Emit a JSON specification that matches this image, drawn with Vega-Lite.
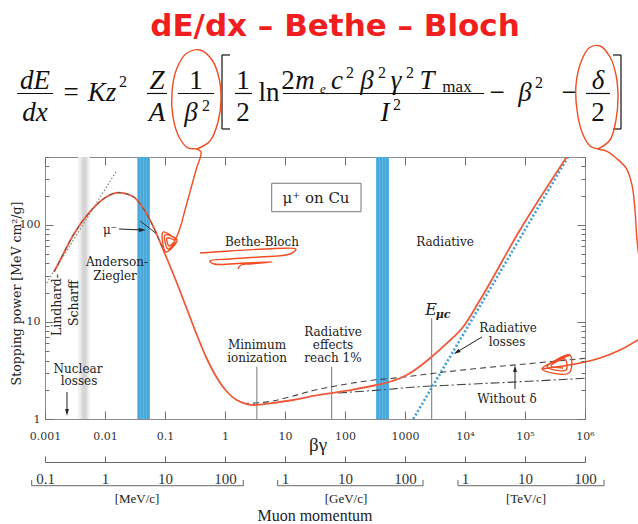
{
  "$schema": "https://vega.github.io/schema/vega-lite/v6.json",
  "width": 540,
  "height": 262,
  "autosize": "none",
  "padding": {"left": 45, "top": 157, "right": 53, "bottom": 105},
  "background": "white",
  "config": {
    "view": {"stroke": "#8a8a8a", "strokeWidth": 1},
    "text": {"font": "DejaVu Serif"}
  },
  "resolve": {"axis": {"x": "independent", "y": "independent"}},
  "datasets": {
    "bands": [
      {"kind": "haze", "lo": 0.00357, "hi": 0.00555, "vlo": 1, "vhi": 500},
      {"kind": "shade", "lo": 0.00393, "hi": 0.00514, "vlo": 1, "vhi": 500},
      {"kind": "core", "lo": 0.0042, "hi": 0.0049, "vlo": 1, "vhi": 500},
      {"kind": "beam", "lo": 0.03454, "hi": 0.05623, "vlo": 1, "vhi": 500},
      {"kind": "beam", "lo": 328.6, "hi": 541.2, "vlo": 1, "vhi": 500}
    ],
    "stripes": [
      {"bg": 0.03687, "vlo": 1, "vhi": 500},
      {"bg": 0.04137, "vlo": 1, "vhi": 500},
      {"bg": 0.04642, "vlo": 1, "vhi": 500},
      {"bg": 0.05208, "vlo": 1, "vhi": 500},
      {"bg": 354.8, "vlo": 1, "vhi": 500},
      {"bg": 398.1, "vlo": 1, "vhi": 500},
      {"bg": 446.7, "vlo": 1, "vhi": 500},
      {"bg": 501.2, "vlo": 1, "vhi": 500}
    ],
    "momentumBrackets": [
      {"bg": 0.0006003, "bg2": 2.018, "sp": 0.2055, "sp2": 0.2055},
      {"bg": 0.0006003, "bg2": 0.0006003, "sp": 0.2055, "sp2": 0.2353},
      {"bg": 2.018, "bg2": 2.018, "sp": 0.2055, "sp2": 0.2353},
      {"bg": 7.555, "bg2": 1995, "sp": 0.2055, "sp2": 0.2055},
      {"bg": 7.555, "bg2": 7.555, "sp": 0.2055, "sp2": 0.2353},
      {"bg": 1995, "bg2": 1995, "sp": 0.2055, "sp2": 0.2353},
      {"bg": 7643, "bg2": 2073000, "sp": 0.2055, "sp2": 0.2055},
      {"bg": 7643, "bg2": 7643, "sp": 0.2055, "sp2": 0.2353},
      {"bg": 2073000, "bg2": 2073000, "sp": 0.2055, "sp2": 0.2353}
    ],
    "markers": [
      {"name": "minimum ionization", "bg": 3.4, "base": 1, "top": 3.458},
      {"name": "radiative 1%", "bg": 60, "base": 1, "top": 3.458},
      {"name": "critical energy", "bg": 2786, "base": 1, "top": 10.9}
    ],
    "curves": [
      {"series": "total", "bg": 0.001413, "sp": 32.7},
      {"series": "total", "bg": 0.001995, "sp": 49.5},
      {"series": "total", "bg": 0.002963, "sp": 78.6},
      {"series": "total", "bg": 0.005623, "sp": 136.6},
      {"series": "total", "bg": 0.01067, "sp": 195},
      {"series": "total", "bg": 0.01666, "sp": 214.5},
      {"series": "total", "bg": 0.02963, "sp": 195},
      {"series": "total", "bg": 0.04348, "sp": 148.1},
      {"series": "total", "bg": 0.06383, "sp": 95.7},
      {"series": "total", "bg": 0.09369, "sp": 55.1},
      {"series": "total", "bg": 0.1067, "sp": 45.57},
      {"series": "total", "bg": 0.1567, "sp": 25.48},
      {"series": "total", "bg": 0.23, "sp": 13.75},
      {"series": "total", "bg": 0.3376, "sp": 7.42},
      {"series": "total", "bg": 0.4955, "sp": 4.2},
      {"series": "total", "bg": 0.7272, "sp": 2.677},
      {"series": "total", "bg": 1.067, "sp": 1.92},
      {"series": "total", "bg": 1.567, "sp": 1.569},
      {"series": "total", "bg": 2.3, "sp": 1.427},
      {"series": "total", "bg": 3.16, "sp": 1.394},
      {"series": "total", "bg": 5.62, "sp": 1.45},
      {"series": "total", "bg": 13.75, "sp": 1.569},
      {"series": "total", "bg": 29.6, "sp": 1.726},
      {"series": "total", "bg": 106.7, "sp": 1.957},
      {"series": "total", "bg": 337.6, "sp": 2.24},
      {"series": "total", "bg": 562, "sp": 2.42},
      {"series": "total", "bg": 1067, "sp": 2.84},
      {"series": "total", "bg": 1778, "sp": 3.5},
      {"series": "total", "bg": 2786, "sp": 4.38},
      {"series": "total", "bg": 4955, "sp": 6.02},
      {"series": "total", "bg": 9369, "sp": 8.93},
      {"series": "total", "bg": 17780, "sp": 16.8},
      {"series": "total", "bg": 82540, "sp": 88.5},
      {"series": "total", "bg": 495500, "sp": 500},
      {"series": "fit", "bg": 0.001413, "sp": 32.7},
      {"series": "fit", "bg": 0.001995, "sp": 49.5},
      {"series": "fit", "bg": 0.002963, "sp": 78.6},
      {"series": "fit", "bg": 0.005623, "sp": 136.6},
      {"series": "fit", "bg": 0.01067, "sp": 195},
      {"series": "fit", "bg": 0.01666, "sp": 214.5},
      {"series": "fit", "bg": 0.02963, "sp": 195},
      {"series": "fit", "bg": 0.04348, "sp": 148.1},
      {"series": "fit", "bg": 0.06383, "sp": 95.7},
      {"series": "fit", "bg": 0.09369, "sp": 55.1},
      {"series": "radiative", "bg": 1374, "sp": 1},
      {"series": "radiative", "bg": 520000, "sp": 500},
      {"series": "lindhard", "bg": 0.001067, "sp": 25.2},
      {"series": "lindhard", "bg": 0.01526, "sp": 353},
      {"series": "nodelta", "bg": 1.995, "sp": 1.444},
      {"series": "nodelta", "bg": 5.623, "sp": 1.515},
      {"series": "nodelta", "bg": 13.59, "sp": 1.726},
      {"series": "nodelta", "bg": 29.29, "sp": 1.966},
      {"series": "nodelta", "bg": 63.1, "sp": 2.162},
      {"series": "nodelta", "bg": 261, "sp": 2.492},
      {"series": "nodelta", "bg": 825.4, "sp": 2.677},
      {"series": "nodelta", "bg": 3831, "sp": 3.013},
      {"series": "nodelta", "bg": 10800, "sp": 3.236},
      {"series": "nodelta", "bg": 135900, "sp": 3.749},
      {"series": "nodelta", "bg": 1000000, "sp": 4.22},
      {"series": "ionization", "bg": 76.4, "sp": 1.853},
      {"series": "ionization", "bg": 383, "sp": 1.99},
      {"series": "ionization", "bg": 1778, "sp": 2.151},
      {"series": "ionization", "bg": 6310, "sp": 2.24},
      {"series": "ionization", "bg": 82540, "sp": 2.42},
      {"series": "ionization", "bg": 1000000, "sp": 2.626},
      {"series": "mu_minus", "bg": 0.03831, "sp": 109.6},
      {"series": "mu_minus", "bg": 0.05208, "sp": 95.06},
      {"series": "mu_minus", "bg": 0.07079, "sp": 81.47}
    ],
    "box": [{"lo": 6.0, "hi": 184.8, "vlo": 136.6, "vhi": 268.1}],
    "notes": [
      {"t": "Bethe-Bloch", "bg": 4.138, "sp": 66.6},
      {"t": "Radiative", "bg": 4642, "sp": 66.6},
      {"t": "Anderson-", "bg": 0.01585, "sp": 41.44},
      {"t": "Ziegler", "bg": 0.01468, "sp": 29.73},
      {"t": "Nuclear", "bg": 0.003548, "sp": 3.313},
      {"t": "losses", "bg": 0.003687, "sp": 2.434},
      {"t": "Minimum", "bg": 3.415, "sp": 5.717},
      {"t": "ionization", "bg": 3.415, "sp": 4.2},
      {"t": "Radiative", "bg": 63.1, "sp": 7.967},
      {"t": "effects", "bg": 63.1, "sp": 5.786},
      {"t": "reach 1%", "bg": 63.1, "sp": 4.2},
      {"t": "Radiative", "bg": 52100, "sp": 8.66},
      {"t": "losses", "bg": 50120, "sp": 6.213},
      {"t": "Without δ", "bg": 50120, "sp": 1.607},
      {"t": "μ⁻", "bg": 0.01212, "sp": 88.51}
    ],
    "sideNotes": [
      {"t": "Lindhard-", "bg": 0.001585, "sp": 14.94},
      {"t": "Scharff", "bg": 0.003044, "sp": 15.67}
    ],
    "boxLabel": [{"t": "μ⁺ on Cu", "bg": 32.86, "sp": 189.1}],
    "criticalLabel": [
      {"part": "symbol", "t": "E", "bg": 2712, "sp": 11.79},
      {"part": "index", "t": "μc", "bg": 4300, "sp": 10.98}
    ],
    "arrows": [
      {"id": "mu", "bg": 0.01711, "sp": 90.64, "bg2": 0.04137, "sp2": 88.51, "heading": 90},
      {"id": "nuclear", "bg": 0.002326, "sp": 1.897, "bg2": 0.002326, "sp2": 1.181, "heading": 180},
      {"id": "radiative", "bg": 19200, "sp": 6.995, "bg2": 7356, "sp2": 4.9, "heading": 239},
      {"id": "nodelta", "bg": 68130, "sp": 2.038, "bg2": 68130, "sp2": 3.274, "heading": 0}
    ],
    "axisTexts": [
      {"kind": "betagamma", "t": "βγ", "bg": 35.48, "sp": 0.5397},
      {"kind": "unit", "t": "[MeV/c]", "bg": 0.03415, "sp": 0.1499},
      {"kind": "unit", "t": "[GeV/c]", "bg": 103.9, "sp": 0.1499},
      {"kind": "unit", "t": "[TeV/c]", "bg": 103900, "sp": 0.1499},
      {"kind": "momentum", "t": "Muon momentum", "bg": 31.62, "sp": 0.1002}
    ],
    "heading": [{"t": "dE/dx – Bethe – Bloch", "bg": 68.13, "sp": 10925}],
    "formula": [
      {"kind": "var", "t": "dE", "bg": 0.000681, "sp": 2510},
      {"kind": "var", "t": "dx", "bg": 0.000681, "sp": 1175},
      {"kind": "var", "t": "Kz", "bg": 0.008913, "sp": 1888},
      {"kind": "var", "t": "Z", "bg": 0.07356, "sp": 2510},
      {"kind": "var", "t": "A", "bg": 0.07356, "sp": 1175},
      {"kind": "var", "t": "β", "bg": 0.2712, "sp": 1175},
      {"kind": "var", "t": "m", "bg": 21.54, "sp": 2510},
      {"kind": "var", "t": "c", "bg": 73.56, "sp": 2510},
      {"kind": "var", "t": "β", "bg": 232.6, "sp": 2510},
      {"kind": "var", "t": "γ", "bg": 707.9, "sp": 2510},
      {"kind": "var", "t": "T", "bg": 2326, "sp": 2510},
      {"kind": "var", "t": "I", "bg": 464.2, "sp": 1175},
      {"kind": "var", "t": "β", "bg": 100000, "sp": 1888},
      {"kind": "var", "t": "δ", "bg": 1647000, "sp": 2510},
      {"kind": "num", "t": "=", "bg": 0.002712, "sp": 1888},
      {"kind": "num", "t": "1", "bg": 0.3286, "sp": 2510},
      {"kind": "num", "t": "1", "bg": 1.995, "sp": 2510},
      {"kind": "num", "t": "2", "bg": 1.995, "sp": 1175},
      {"kind": "num", "t": "ln", "bg": 5.412, "sp": 1888},
      {"kind": "num", "t": "2", "bg": 11.22, "sp": 2510},
      {"kind": "num", "t": "−", "bg": 34150, "sp": 1888},
      {"kind": "num", "t": "−", "bg": 541200, "sp": 1888},
      {"kind": "num", "t": "2", "bg": 1647000, "sp": 1175},
      {"kind": "sup", "t": "2", "bg": 0.01995, "sp": 2632},
      {"kind": "sup", "t": "2", "bg": 0.4825, "sp": 1489},
      {"kind": "sup", "t": "2", "bg": 121.2, "sp": 3257},
      {"kind": "sup", "t": "2", "bg": 413.6, "sp": 3257},
      {"kind": "sup", "t": "2", "bg": 1212, "sp": 3257},
      {"kind": "sup", "t": "2", "bg": 735.6, "sp": 1525},
      {"kind": "sup", "t": "2", "bg": 171100, "sp": 2570},
      {"kind": "sub", "t": "e", "bg": 42.99, "sp": 2283},
      {"kind": "index", "t": "max", "bg": 7356, "sp": 2337}
    ],
    "formulaRules": [
      {"bg": 0.0003415, "bg2": 0.001359, "sp": 2256, "sp2": 2256},
      {"bg": 0.05012, "bg2": 0.108, "sp": 2256, "sp2": 2256},
      {"bg": 0.1647, "bg2": 0.6557, "sp": 2256, "sp2": 2256},
      {"bg": 1.468, "bg2": 2.818, "sp": 2256, "sp2": 2256},
      {"bg": 9.261, "bg2": 20730, "sp": 2256, "sp2": 2256},
      {"bg": 1039000, "bg2": 2610000, "sp": 2256, "sp2": 2256},
      {"bg": 0.8913, "bg2": 0.8913, "sp": 5622, "sp2": 971.6},
      {"bg": 0.8913, "bg2": 1.212, "sp": 5622, "sp2": 5622},
      {"bg": 0.8913, "bg2": 1.212, "sp": 971.6, "sp2": 971.6},
      {"bg": 3981000, "bg2": 3981000, "sp": 5622, "sp2": 971.6},
      {"bg": 2929000, "bg2": 3981000, "sp": 5622, "sp2": 5622},
      {"bg": 2929000, "bg2": 3981000, "sp": 971.6, "sp2": 971.6}
    ],
    "ink": [
      {"s": "a", "i": 1, "bg": 0.3415, "sp": 604.7},
      {"s": "a", "i": 2, "bg": 0.5623, "sp": 730.9},
      {"s": "a", "i": 3, "bg": 0.7647, "sp": 1147},
      {"s": "a", "i": 4, "bg": 0.8577, "sp": 1933},
      {"s": "a", "i": 5, "bg": 0.7943, "sp": 3257},
      {"s": "a", "i": 6, "bg": 0.6072, "sp": 4994},
      {"s": "a", "i": 7, "bg": 0.3831, "sp": 6330},
      {"s": "a", "i": 8, "bg": 0.2326, "sp": 5895},
      {"s": "a", "i": 9, "bg": 0.1585, "sp": 4129},
      {"s": "a", "i": 10, "bg": 0.1308, "sp": 2337},
      {"s": "a", "i": 11, "bg": 0.1359, "sp": 1292},
      {"s": "a", "i": 12, "bg": 0.1711, "sp": 803.9},
      {"s": "a", "i": 13, "bg": 0.2416, "sp": 619.2},
      {"s": "a", "i": 14, "bg": 0.3415, "sp": 604.7},
      {"s": "a", "i": 15, "bg": 0.3981, "sp": 563.1},
      {"s": "a", "i": 16, "bg": 0.3286, "sp": 367.5},
      {"s": "a", "i": 17, "bg": 0.261, "sp": 218.1},
      {"s": "a", "i": 18, "bg": 0.2154, "sp": 142.2},
      {"s": "a", "i": 19, "bg": 0.1848, "sp": 99.7},
      {"s": "a", "i": 20, "bg": 0.1585, "sp": 76.8},
      {"s": "a", "i": 21, "bg": 0.1413, "sp": 68.19},
      {"s": "a2", "i": 1, "bg": 0.1585, "sp": 69.83},
      {"s": "a2", "i": 2, "bg": 0.0926, "sp": 84.42},
      {"s": "a2", "i": 3, "bg": 0.1039, "sp": 52.53},
      {"s": "a2", "i": 4, "bg": 0.1585, "sp": 69.83},
      {"s": "a2", "i": 5, "bg": 0.1, "sp": 78.63},
      {"s": "a2", "i": 6, "bg": 0.1122, "sp": 56.41},
      {"s": "a2", "i": 7, "bg": 0.1468, "sp": 68.19},
      {"s": "a2", "i": 8, "bg": 0.108, "sp": 73.21},
      {"s": "a2", "i": 9, "bg": 0.1166, "sp": 60.57},
      {"s": "a2", "i": 10, "bg": 0.1413, "sp": 66.6},
      {"s": "b", "i": 1, "bg": 1647000, "sp": 604.7},
      {"s": "b", "i": 2, "bg": 2610000, "sp": 748.5},
      {"s": "b", "i": 3, "bg": 3286000, "sp": 1203},
      {"s": "b", "i": 4, "bg": 3548000, "sp": 2076},
      {"s": "b", "i": 5, "bg": 3286000, "sp": 3498},
      {"s": "b", "i": 6, "bg": 2610000, "sp": 5362},
      {"s": "b", "i": 7, "bg": 1778000, "sp": 6961},
      {"s": "b", "i": 8, "bg": 1166000, "sp": 6637},
      {"s": "b", "i": 9, "bg": 857700, "sp": 4763},
      {"s": "b", "i": 10, "bg": 707900, "sp": 2760},
      {"s": "b", "i": 11, "bg": 735600, "sp": 1525},
      {"s": "b", "i": 12, "bg": 891300, "sp": 904.8},
      {"s": "b", "i": 13, "bg": 1212000, "sp": 649.3},
      {"s": "b", "i": 14, "bg": 1647000, "sp": 604.7},
      {"s": "b", "i": 15, "bg": 2239000, "sp": 576.8},
      {"s": "b", "i": 16, "bg": 3286000, "sp": 488.5},
      {"s": "b", "i": 17, "bg": 4825000, "sp": 385.3},
      {"s": "b", "i": 18, "bg": 6072000, "sp": 257.5},
      {"s": "b", "i": 19, "bg": 6810000, "sp": 142.2},
      {"s": "b", "i": 20, "bg": 7356000, "sp": 69.83},
      {"s": "b", "i": 21, "bg": 8254000, "sp": 38.6},
      {"s": "c", "i": 1, "bg": 8577000, "sp": 6.831},
      {"s": "c", "i": 2, "bg": 3831000, "sp": 5.138},
      {"s": "c", "i": 3, "bg": 1778000, "sp": 4.25},
      {"s": "c", "i": 4, "bg": 681000, "sp": 3.687},
      {"s": "c", "i": 5, "bg": 192000, "sp": 3.274},
      {"s": "c2", "i": 1, "bg": 562300, "sp": 4.563},
      {"s": "c2", "i": 2, "bg": 192000, "sp": 3.274},
      {"s": "c2", "i": 3, "bg": 541200, "sp": 2.977},
      {"s": "c2", "i": 4, "bg": 562300, "sp": 4.563},
      {"s": "c2", "i": 5, "bg": 232600, "sp": 3.434},
      {"s": "c2", "i": 6, "bg": 482500, "sp": 3.197},
      {"s": "c2", "i": 7, "bg": 464200, "sp": 4.151},
      {"s": "c2", "i": 8, "bg": 271400, "sp": 3.516},
      {"s": "c2", "i": 9, "bg": 430000, "sp": 3.353},
      {"s": "d", "i": 1, "bg": 0.3831, "sp": 51.3},
      {"s": "d", "i": 2, "bg": 1.212, "sp": 53.79},
      {"s": "d", "i": 3, "bg": 4.642, "sp": 56.41},
      {"s": "d", "i": 4, "bg": 15.26, "sp": 56.41},
      {"s": "d", "i": 5, "bg": 12.12, "sp": 50.11},
      {"s": "d", "i": 6, "bg": 3.831, "sp": 46.66},
      {"s": "d", "i": 7, "bg": 1.212, "sp": 44.5},
      {"s": "d", "i": 8, "bg": 0.5623, "sp": 42.44},
      {"s": "d", "i": 9, "bg": 0.6557, "sp": 39.53},
      {"s": "d", "i": 10, "bg": 2.154, "sp": 40.47},
      {"s": "d", "i": 11, "bg": 6.072, "sp": 41.44},
      {"s": "d", "i": 12, "bg": 2.61, "sp": 39.53},
      {"s": "d", "i": 13, "bg": 1.848, "sp": 38.6},
      {"s": "d", "i": 14, "bg": 1.647, "sp": 35.1}
    ]
  },
  "layer": [
    {
      "data": {"name": "bands"},
      "mark": {"type": "rect"},
      "encoding": {
        "x": {"field": "lo", "type": "quantitative",
          "scale": {"type": "log", "domain": [0.001, 1000000], "nice": false},
          "axis": {"orient": "bottom", "values": [0.001, 0.01, 0.1, 1, 10, 100, 1000, 10000, 100000, 1000000],
            "labelExpr": "datum.value < 0.005 ? '0.001' : datum.value < 0.05 ? '0.01' : datum.value < 0.5 ? '0.1' : datum.value < 5 ? '1' : datum.value < 50 ? '10' : datum.value < 500 ? '100' : datum.value < 5000 ? '1000' : datum.value < 50000 ? '10⁴' : datum.value < 500000 ? '10⁵' : '10⁶'",
            "tickSize": -8, "tickColor": "#6f6f6f", "domain": false, "grid": false, "labelPadding": 19,
            "labelFont": "DejaVu Serif", "labelFontSize": 11, "labelColor": "#333", "labelFlush": false, "labelOverlap": false,
            "title": null, "zindex": 1}},
        "x2": {"field": "hi"},
        "y": {"field": "vlo", "type": "quantitative",
          "scale": {"type": "log", "domain": [1, 500], "nice": false},
          "axis": {"orient": "left", "values": [1, 10, 100],
            "labelExpr": "datum.value < 5 ? '1' : datum.value < 50 ? '10' : '100'",
            "tickSize": -8, "tickColor": "#6f6f6f", "domain": false, "grid": false, "labelPadding": 13,
            "labelFont": "DejaVu Serif", "labelFontSize": 11, "labelColor": "#333",
            "title": "Stopping power [MeV cm²/g]", "titleFont": "DejaVu Serif", "titleFontSize": 12.5,
            "titleFontWeight": "normal", "titleColor": "#222", "titleX": -22, "titleY": 136, "zindex": 1}},
        "y2": {"field": "vhi"},
        "fill": {"field": "kind", "type": "nominal",
          "scale": {"domain": ["haze", "shade", "core", "beam"], "range": ["#f0f0f0", "#e2e2e2", "#d4d4d4", "#5cb7e4"]},
          "legend": null}
      }
    },
    {
      "data": {"name": "stripes"},
      "mark": {"type": "rule", "color": "#2f8fcb", "strokeWidth": 0.8},
      "encoding": {
        "x": {"field": "bg", "type": "quantitative",
          "scale": {"type": "log", "domain": [0.001, 1000000], "nice": false},
          "axis": {"orient": "top", "values": [0.001, 0.01, 0.1, 1, 10, 100, 1000, 10000, 100000, 1000000],
            "labels": false, "tickSize": -8, "tickColor": "#6f6f6f", "domain": false, "grid": false, "title": null, "zindex": 1}},
        "y": {"field": "vlo", "type": "quantitative",
          "scale": {"type": "log", "domain": [1, 500], "nice": false},
          "axis": {"orient": "right", "values": [1, 10, 100], "labels": false, "tickSize": -8,
            "tickColor": "#6f6f6f", "domain": false, "grid": false, "title": null, "zindex": 1}},
        "y2": {"field": "vhi"}
      }
    },
    {
      "data": {"name": "momentumBrackets"},
      "mark": {"type": "rule", "color": "#666", "strokeWidth": 1},
      "encoding": {
        "x": {"field": "bg", "type": "quantitative",
          "scale": {"type": "log", "domain": [0.001, 1000000], "nice": false},
          "axis": {"orient": "bottom", "offset": 43, "values": [0.001, 0.01, 0.1, 1, 10, 100, 1000, 10000, 100000, 1000000],
            "labelExpr": "datum.value < 0.005 ? '0.1' : datum.value < 0.05 ? '1' : datum.value < 0.5 ? '10' : datum.value < 5 ? '100' : datum.value < 50 ? '1' : datum.value < 500 ? '10' : datum.value < 5000 ? '100' : datum.value < 50000 ? '1' : datum.value < 500000 ? '10' : '100'",
            "tickSize": -6, "tickColor": "#666", "domain": true, "domainColor": "#666", "grid": false,
            "labelPadding": 15, "labelFont": "Liberation Serif", "labelFontSize": 15, "labelColor": "#333",
            "labelFlush": false, "labelOverlap": false, "title": null}},
        "x2": {"field": "bg2"},
        "y": {"field": "sp", "type": "quantitative",
          "scale": {"type": "log", "domain": [1, 500], "nice": false},
          "axis": {"orient": "left", "values": [2, 3, 4, 5, 6, 7, 8, 9, 20, 30, 40, 50, 60, 70, 80, 90, 200, 300, 400, 500],
            "labels": false, "tickSize": -4, "tickColor": "#6f6f6f", "domain": false, "grid": false, "title": null, "zindex": 1}},
        "y2": {"field": "sp2"}
      }
    },
    {
      "data": {"name": "markers"},
      "mark": {"type": "rule", "color": "#777", "strokeWidth": 1},
      "encoding": {
        "x": {"field": "bg", "type": "quantitative",
          "scale": {"type": "log", "domain": [0.001, 1000000], "nice": false}, "axis": null},
        "y": {"field": "base", "type": "quantitative",
          "scale": {"type": "log", "domain": [1, 500], "nice": false},
          "axis": {"orient": "right", "values": [2, 3, 4, 5, 6, 7, 8, 9, 20, 30, 40, 50, 60, 70, 80, 90, 200, 300, 400, 500],
            "labels": false, "tickSize": -4, "tickColor": "#6f6f6f", "domain": false, "grid": false, "title": null, "zindex": 1}},
        "y2": {"field": "top"}
      }
    },
    {
      "data": {"name": "curves"},
      "transform": [{"filter": "datum.series == 'lindhard'"}],
      "mark": {"type": "line", "color": "#777", "strokeWidth": 1.1, "strokeDash": [1.5, 2]},
      "encoding": {
        "x": {"field": "bg", "type": "quantitative", "scale": {"type": "log", "domain": [0.001, 1000000], "nice": false}, "axis": null},
        "y": {"field": "sp", "type": "quantitative", "scale": {"type": "log", "domain": [1, 500], "nice": false}, "axis": null}
      }
    },
    {
      "data": {"name": "curves"},
      "transform": [{"filter": "datum.series == 'radiative'"}],
      "mark": {"type": "line", "color": "#3a9ee0", "strokeWidth": 2.6, "strokeDash": [2, 2.2], "clip": true},
      "encoding": {
        "x": {"field": "bg", "type": "quantitative", "scale": {"type": "log", "domain": [0.001, 1000000], "nice": false}, "axis": null},
        "y": {"field": "sp", "type": "quantitative", "scale": {"type": "log", "domain": [1, 500], "nice": false}, "axis": null}
      }
    },
    {
      "data": {"name": "curves"},
      "transform": [{"filter": "datum.series == 'nodelta'"}],
      "mark": {"type": "line", "color": "#444", "strokeWidth": 1.1, "strokeDash": [6, 4], "interpolate": "monotone"},
      "encoding": {
        "x": {"field": "bg", "type": "quantitative", "scale": {"type": "log", "domain": [0.001, 1000000], "nice": false}, "axis": null},
        "y": {"field": "sp", "type": "quantitative", "scale": {"type": "log", "domain": [1, 500], "nice": false}, "axis": null}
      }
    },
    {
      "data": {"name": "curves"},
      "transform": [{"filter": "datum.series == 'ionization'"}],
      "mark": {"type": "line", "color": "#444", "strokeWidth": 1.1, "strokeDash": [9, 3, 2, 3], "interpolate": "monotone"},
      "encoding": {
        "x": {"field": "bg", "type": "quantitative", "scale": {"type": "log", "domain": [0.001, 1000000], "nice": false}, "axis": null},
        "y": {"field": "sp", "type": "quantitative", "scale": {"type": "log", "domain": [1, 500], "nice": false}, "axis": null}
      }
    },
    {
      "data": {"name": "curves"},
      "transform": [{"filter": "datum.series == 'total'"}],
      "mark": {"type": "line", "color": "#ee5a3a", "strokeWidth": 1.8, "interpolate": "monotone", "clip": true},
      "encoding": {
        "x": {"field": "bg", "type": "quantitative", "scale": {"type": "log", "domain": [0.001, 1000000], "nice": false}, "axis": null},
        "y": {"field": "sp", "type": "quantitative", "scale": {"type": "log", "domain": [1, 500], "nice": false}, "axis": null}
      }
    },
    {
      "data": {"name": "curves"},
      "transform": [{"filter": "datum.series == 'fit'"}],
      "mark": {"type": "line", "color": "#555", "strokeWidth": 1, "strokeDash": [4, 4], "interpolate": "monotone"},
      "encoding": {
        "x": {"field": "bg", "type": "quantitative", "scale": {"type": "log", "domain": [0.001, 1000000], "nice": false}, "axis": null},
        "y": {"field": "sp", "type": "quantitative", "scale": {"type": "log", "domain": [1, 500], "nice": false}, "axis": null}
      }
    },
    {
      "data": {"name": "curves"},
      "transform": [{"filter": "datum.series == 'mu_minus'"}],
      "mark": {"type": "line", "color": "#333", "strokeWidth": 1, "interpolate": "monotone"},
      "encoding": {
        "x": {"field": "bg", "type": "quantitative", "scale": {"type": "log", "domain": [0.001, 1000000], "nice": false}, "axis": null},
        "y": {"field": "sp", "type": "quantitative", "scale": {"type": "log", "domain": [1, 500], "nice": false}, "axis": null}
      }
    },
    {
      "data": {"name": "box"},
      "mark": {"type": "rect", "fill": "white", "stroke": "#777", "strokeWidth": 1},
      "encoding": {
        "x": {"field": "lo", "type": "quantitative", "scale": {"type": "log", "domain": [0.001, 1000000], "nice": false}, "axis": null},
        "x2": {"field": "hi"},
        "y": {"field": "vlo", "type": "quantitative", "scale": {"type": "log", "domain": [1, 500], "nice": false}, "axis": null},
        "y2": {"field": "vhi"}
      }
    },
    {
      "data": {"name": "boxLabel"},
      "mark": {"type": "text", "font": "DejaVu Serif", "fontSize": 15, "color": "#222", "align": "center", "baseline": "middle"},
      "encoding": {
        "x": {"field": "bg", "type": "quantitative", "scale": {"type": "log", "domain": [0.001, 1000000], "nice": false}, "axis": null},
        "y": {"field": "sp", "type": "quantitative", "scale": {"type": "log", "domain": [1, 500], "nice": false}, "axis": null},
        "text": {"field": "t"}
      }
    },
    {
      "data": {"name": "notes"},
      "mark": {"type": "text", "font": "DejaVu Serif", "fontSize": 12, "color": "#222", "align": "center", "baseline": "middle"},
      "encoding": {
        "x": {"field": "bg", "type": "quantitative", "scale": {"type": "log", "domain": [0.001, 1000000], "nice": false}, "axis": null},
        "y": {"field": "sp", "type": "quantitative", "scale": {"type": "log", "domain": [1, 500], "nice": false}, "axis": null},
        "text": {"field": "t"}
      }
    },
    {
      "data": {"name": "sideNotes"},
      "mark": {"type": "text", "font": "DejaVu Serif", "fontSize": 12.5, "color": "#222", "align": "center", "baseline": "middle", "angle": 270},
      "encoding": {
        "x": {"field": "bg", "type": "quantitative", "scale": {"type": "log", "domain": [0.001, 1000000], "nice": false}, "axis": null},
        "y": {"field": "sp", "type": "quantitative", "scale": {"type": "log", "domain": [1, 500], "nice": false}, "axis": null},
        "text": {"field": "t"}
      }
    },
    {
      "data": {"name": "criticalLabel"},
      "transform": [{"filter": "datum.part == 'symbol'"}],
      "mark": {"type": "text", "font": "DejaVu Serif", "fontSize": 16, "fontStyle": "italic", "color": "#222", "align": "center", "baseline": "alphabetic"},
      "encoding": {
        "x": {"field": "bg", "type": "quantitative", "scale": {"type": "log", "domain": [0.001, 1000000], "nice": false}, "axis": null},
        "y": {"field": "sp", "type": "quantitative", "scale": {"type": "log", "domain": [1, 500], "nice": false}, "axis": null},
        "text": {"field": "t"}
      }
    },
    {
      "data": {"name": "criticalLabel"},
      "transform": [{"filter": "datum.part == 'index'"}],
      "mark": {"type": "text", "font": "DejaVu Serif", "fontSize": 11, "fontStyle": "italic", "fontWeight": "bold", "color": "#222", "align": "center", "baseline": "alphabetic"},
      "encoding": {
        "x": {"field": "bg", "type": "quantitative", "scale": {"type": "log", "domain": [0.001, 1000000], "nice": false}, "axis": null},
        "y": {"field": "sp", "type": "quantitative", "scale": {"type": "log", "domain": [1, 500], "nice": false}, "axis": null},
        "text": {"field": "t"}
      }
    },
    {
      "data": {"name": "arrows"},
      "mark": {"type": "rule", "color": "#222", "strokeWidth": 1},
      "encoding": {
        "x": {"field": "bg", "type": "quantitative", "scale": {"type": "log", "domain": [0.001, 1000000], "nice": false}, "axis": null},
        "x2": {"field": "bg2"},
        "y": {"field": "sp", "type": "quantitative", "scale": {"type": "log", "domain": [1, 500], "nice": false}, "axis": null},
        "y2": {"field": "sp2"}
      }
    },
    {
      "data": {"name": "arrows"},
      "mark": {"type": "point", "shape": "M0,-1L0.5,0.8L-0.5,0.8Z", "filled": true, "color": "#222", "size": 60, "opacity": 1},
      "encoding": {
        "x": {"field": "bg2", "type": "quantitative", "scale": {"type": "log", "domain": [0.001, 1000000], "nice": false}, "axis": null},
        "y": {"field": "sp2", "type": "quantitative", "scale": {"type": "log", "domain": [1, 500], "nice": false}, "axis": null},
        "angle": {"field": "heading", "type": "quantitative", "scale": null}
      }
    },
    {
      "data": {"name": "axisTexts"},
      "transform": [{"filter": "datum.kind == 'betagamma'"}],
      "mark": {"type": "text", "font": "Liberation Serif", "fontSize": 19, "color": "#222", "align": "center", "baseline": "middle"},
      "encoding": {
        "x": {"field": "bg", "type": "quantitative", "scale": {"type": "log", "domain": [0.001, 1000000], "nice": false}, "axis": null},
        "y": {"field": "sp", "type": "quantitative", "scale": {"type": "log", "domain": [1, 500], "nice": false}, "axis": null},
        "text": {"field": "t"}
      }
    },
    {
      "data": {"name": "axisTexts"},
      "transform": [{"filter": "datum.kind == 'unit'"}],
      "mark": {"type": "text", "font": "Liberation Serif", "fontSize": 13, "color": "#222", "align": "center", "baseline": "middle"},
      "encoding": {
        "x": {"field": "bg", "type": "quantitative", "scale": {"type": "log", "domain": [0.001, 1000000], "nice": false}, "axis": null},
        "y": {"field": "sp", "type": "quantitative", "scale": {"type": "log", "domain": [1, 500], "nice": false}, "axis": null},
        "text": {"field": "t"}
      }
    },
    {
      "data": {"name": "axisTexts"},
      "transform": [{"filter": "datum.kind == 'momentum'"}],
      "mark": {"type": "text", "font": "Liberation Serif", "fontSize": 16, "color": "#222", "align": "center", "baseline": "middle"},
      "encoding": {
        "x": {"field": "bg", "type": "quantitative", "scale": {"type": "log", "domain": [0.001, 1000000], "nice": false}, "axis": null},
        "y": {"field": "sp", "type": "quantitative", "scale": {"type": "log", "domain": [1, 500], "nice": false}, "axis": null},
        "text": {"field": "t"}
      }
    },
    {
      "data": {"name": "heading"},
      "mark": {"type": "text", "font": "DejaVu Sans", "fontSize": 31, "fontWeight": "bold", "color": "#f01e1e", "align": "center", "baseline": "middle"},
      "encoding": {
        "x": {"field": "bg", "type": "quantitative", "scale": {"type": "log", "domain": [0.001, 1000000], "nice": false}, "axis": null},
        "y": {"field": "sp", "type": "quantitative", "scale": {"type": "log", "domain": [1, 500], "nice": false}, "axis": null},
        "text": {"field": "t"}
      }
    },
    {
      "data": {"name": "formula"},
      "transform": [{"filter": "datum.kind == 'var'"}],
      "mark": {"type": "text", "font": "Liberation Serif", "fontSize": 27, "fontStyle": "italic", "color": "#111", "align": "center", "baseline": "alphabetic"},
      "encoding": {
        "x": {"field": "bg", "type": "quantitative", "scale": {"type": "log", "domain": [0.001, 1000000], "nice": false}, "axis": null},
        "y": {"field": "sp", "type": "quantitative", "scale": {"type": "log", "domain": [1, 500], "nice": false}, "axis": null},
        "text": {"field": "t"}
      }
    },
    {
      "data": {"name": "formula"},
      "transform": [{"filter": "datum.kind == 'num'"}],
      "mark": {"type": "text", "font": "Liberation Serif", "fontSize": 27, "color": "#111", "align": "center", "baseline": "alphabetic"},
      "encoding": {
        "x": {"field": "bg", "type": "quantitative", "scale": {"type": "log", "domain": [0.001, 1000000], "nice": false}, "axis": null},
        "y": {"field": "sp", "type": "quantitative", "scale": {"type": "log", "domain": [1, 500], "nice": false}, "axis": null},
        "text": {"field": "t"}
      }
    },
    {
      "data": {"name": "formula"},
      "transform": [{"filter": "datum.kind == 'sup'"}],
      "mark": {"type": "text", "font": "Liberation Serif", "fontSize": 16, "color": "#111", "align": "center", "baseline": "alphabetic"},
      "encoding": {
        "x": {"field": "bg", "type": "quantitative", "scale": {"type": "log", "domain": [0.001, 1000000], "nice": false}, "axis": null},
        "y": {"field": "sp", "type": "quantitative", "scale": {"type": "log", "domain": [1, 500], "nice": false}, "axis": null},
        "text": {"field": "t"}
      }
    },
    {
      "data": {"name": "formula"},
      "transform": [{"filter": "datum.kind == 'sub'"}],
      "mark": {"type": "text", "font": "Liberation Serif", "fontSize": 13, "fontStyle": "italic", "color": "#111", "align": "center", "baseline": "alphabetic"},
      "encoding": {
        "x": {"field": "bg", "type": "quantitative", "scale": {"type": "log", "domain": [0.001, 1000000], "nice": false}, "axis": null},
        "y": {"field": "sp", "type": "quantitative", "scale": {"type": "log", "domain": [1, 500], "nice": false}, "axis": null},
        "text": {"field": "t"}
      }
    },
    {
      "data": {"name": "formula"},
      "transform": [{"filter": "datum.kind == 'index'"}],
      "mark": {"type": "text", "font": "Liberation Serif", "fontSize": 17, "color": "#111", "align": "center", "baseline": "alphabetic"},
      "encoding": {
        "x": {"field": "bg", "type": "quantitative", "scale": {"type": "log", "domain": [0.001, 1000000], "nice": false}, "axis": null},
        "y": {"field": "sp", "type": "quantitative", "scale": {"type": "log", "domain": [1, 500], "nice": false}, "axis": null},
        "text": {"field": "t"}
      }
    },
    {
      "data": {"name": "formulaRules"},
      "mark": {"type": "rule", "color": "#111", "strokeWidth": 1.2},
      "encoding": {
        "x": {"field": "bg", "type": "quantitative", "scale": {"type": "log", "domain": [0.001, 1000000], "nice": false}, "axis": null},
        "x2": {"field": "bg2"},
        "y": {"field": "sp", "type": "quantitative", "scale": {"type": "log", "domain": [1, 500], "nice": false}, "axis": null},
        "y2": {"field": "sp2"}
      }
    },
    {
      "data": {"name": "ink"},
      "mark": {"type": "line", "interpolate": "catmull-rom", "color": "#f04d22", "strokeWidth": 1.4},
      "encoding": {
        "x": {"field": "bg", "type": "quantitative", "scale": {"type": "log", "domain": [0.001, 1000000], "nice": false}, "axis": null},
        "y": {"field": "sp", "type": "quantitative", "scale": {"type": "log", "domain": [1, 500], "nice": false}, "axis": null},
        "detail": {"field": "s"},
        "order": {"field": "i", "type": "quantitative"}
      }
    }
  ]
}
